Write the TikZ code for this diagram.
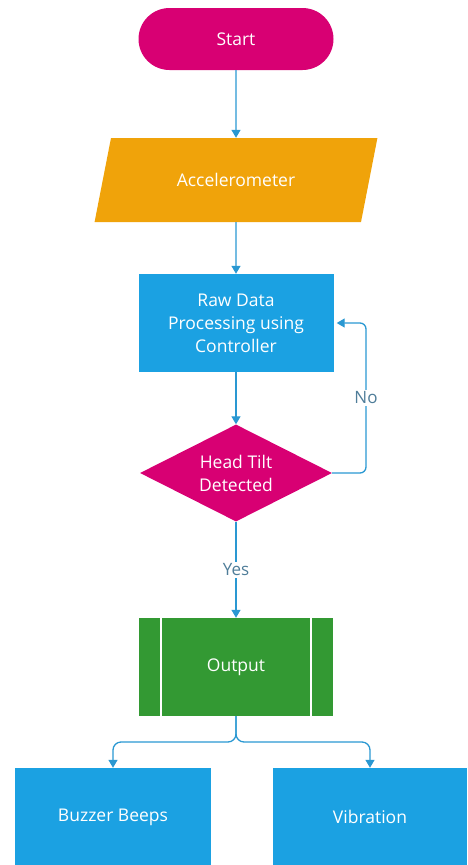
\documentclass[tikz,border=0pt]{standalone}
\usepackage{fontspec}
\setmainfont{Open Sans}
\usetikzlibrary{arrows.meta,shapes.geometric,shapes.misc}
\definecolor{flowmag}{HTML}{D80073}
\definecolor{floworange}{HTML}{F0A30A}
\definecolor{flowblue}{HTML}{1BA1E2}
\definecolor{flowgreen}{HTML}{339933}
\definecolor{flowline}{HTML}{2A98D2}
\definecolor{flowlabel}{HTML}{4F7D99}
\tikzset{
	box/.style={draw=none, text=white, font=\fontsize{17.5}{23}\selectfont, align=center, inner sep=0pt},
	link/.style={draw=flowline, line width=1.3pt, -{Triangle[width=9pt,length=8pt]}},
	linklabel/.style={fill=white, text=flowlabel, font=\fontsize{17}{20}\selectfont, inner sep=2pt}
}

\begin{document}
\begin{tikzpicture}[x=1pt, y=-1pt]
			%%%%% START %%%%%
			
			\useasboundingbox (0, 0) rectangle (467, 865);
			
			\node[box, rounded rectangle, fill=flowmag, minimum width=195pt, minimum height=62pt] (start) at (236, 39) {Start};
			\node[box, trapezium, trapezium left angle=60, trapezium right angle=120, trapezium stretches=true, fill=floworange, minimum width=283pt, minimum height=84pt] (accel) at (236, 180) {Accelerometer};
			\node[box, rectangle, fill=flowblue, minimum width=195pt, minimum height=98pt] (proc) at (236, 323) {Raw Data\\Processing using\\Controller};
			\node[box, diamond, aspect=2.2, fill=flowmag, minimum width=192pt, minimum height=97pt] (tilt) at (236, 473) {Head Tilt\\Detected};
			\node[box, rectangle, fill=flowgreen, minimum width=194pt, minimum height=98pt] (out) at (236, 667) {Output};
			\draw[white, line width=1.5pt] ([xshift=22pt]out.north west) -- ([xshift=22pt]out.south west);
			\draw[white, line width=1.5pt] ([xshift=-22pt]out.north east) -- ([xshift=-22pt]out.south east);
			
			\node[box, rectangle, fill=flowblue, minimum width=196pt, minimum height=98pt] (buzz) at (113, 817) {Buzzer Beeps};
			\node[box, rectangle, fill=flowblue, minimum width=194pt, minimum height=98pt] (vib) at (370, 817) {Vibration};
			
			\draw[link] (start) -- (accel);
			\draw[link] (accel) -- (proc);
			\draw[link] (proc) -- (tilt);
			\draw[link, rounded corners=6pt] (tilt.east) -- (366, 473) -- (366, 323) -- ([xshift=3pt]proc.east);
			\node[linklabel] (no) at (366, 398) {No};
			\draw[link] (tilt.south) -- (out.north);
			\node[linklabel] (yes) at (236, 570) {Yes};
			
			\draw[link, rounded corners=8pt] (out.south) -- (236, 742) -| (buzz.north);
			\draw[link, rounded corners=8pt] (out.south) -- (236, 742) -| (vib.north);
			
			%%%%% END %%%%%
		\end{tikzpicture}
\end{document}
